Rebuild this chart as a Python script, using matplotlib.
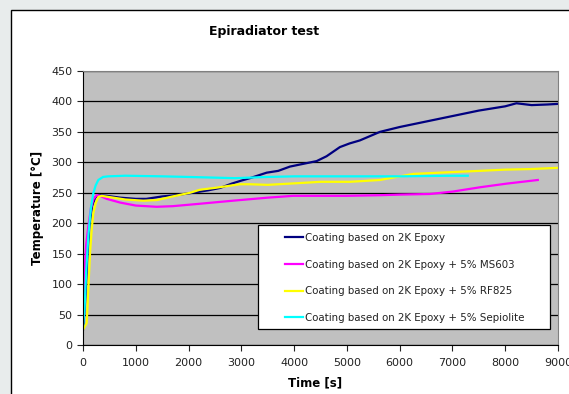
import matplotlib
matplotlib.use("Agg")
import matplotlib.pyplot as plt
from matplotlib.patches import Rectangle

# Epoxy coating (reference)
t_epoxy = [0, 40, 80, 120, 170, 230, 300, 450, 700, 1000, 1200, 1500, 1750, 2000,
           2370, 2600, 2816, 3000, 3163, 3479, 3700, 3920, 4200, 4426, 4615, 4867,
           5050, 5246, 5625, 6000, 6500, 7000, 7500, 8000, 8212, 8500, 8800, 9000]
v_epoxy = [25, 70, 140, 195, 228, 242, 246, 245, 242, 240, 240, 244, 246, 249,
           254, 258, 265, 270, 274, 283, 286, 293, 298, 302, 310, 325,
           331, 336, 350, 358, 367, 376, 385, 392, 397, 394, 395, 396]

# + 5% MS603
t_ms603 = [0, 30, 60, 100, 150, 200, 259, 320, 450, 700, 1000, 1395, 1700, 2216,
           2841, 3500, 3980, 4500, 5000, 5625, 6000, 6572, 7008, 7519, 8024, 8617]
v_ms603 = [60, 120, 165, 194, 225, 240, 246, 245, 240, 234, 229, 227, 228, 232,
           237, 242, 245, 245, 245, 246, 247, 248, 252, 259, 265, 271]

# + 5% RF825
t_rf825 = [0, 30, 70, 100, 133, 165, 195, 240, 290, 350, 500, 800, 1140, 1400,
           1700, 2027, 2216, 2500, 2973, 3163, 3500, 4110, 4500, 5057, 5625, 6004,
           6256, 7000, 7519, 8000, 8500, 9000]
v_rf825 = [25, 30, 36, 90, 151, 190, 216, 233, 243, 245, 243, 239, 237, 238,
           244, 250, 255, 258, 264, 264, 263, 266, 268, 268, 271, 277,
           281, 284, 286, 288, 289, 291]

# + 5% Sepiolite
t_sep = [0, 30, 60, 100, 150, 195, 240, 290, 380, 480, 800, 1500, 2000, 2880,
         3500, 4000, 5000, 6000, 7000, 7290]
v_sep = [30, 60, 120, 178, 225, 249, 262, 271, 276, 277, 278, 277, 276, 274,
         276, 277, 277, 277, 278, 278]

labels = ["Coating based on 2K Epoxy",
          "Coating based on 2K Epoxy + 5% MS603",
          "Coating based on 2K Epoxy + 5% RF825",
          "Coating based on 2K Epoxy + 5% Sepiolite"]
colors = ["#000080", "#FF00FF", "#FFFF00", "#00FFFF"]

W, H = 569, 394
fig = plt.figure(figsize=(W / 100, H / 100), dpi=100, facecolor="#e8ecec")

# chart frame (white with black border, running off right/bottom)
fig.add_artist(Rectangle((11 / W, -0.1), 1.2, 1 - 10 / H + 0.1,
                         transform=fig.transFigure, facecolor="white",
                         edgecolor="black", linewidth=1.0, zorder=0))

ax = fig.add_axes([83 / W, 1 - 345 / H, (558 - 83) / W, (345 - 71) / H])
ax.set_facecolor("#C0C0C0")

series = [(t_epoxy, v_epoxy), (t_ms603, v_ms603), (t_rf825, v_rf825), (t_sep, v_sep)]
for (t, v), c, lab in zip(series, colors, labels):
    ax.plot(t, v, color=c, lw=1.6, label=lab, solid_joinstyle="round")

ax.set_xlim(0, 9000)
ax.set_ylim(0, 450)
ax.set_xticks(range(0, 9001, 1000))
ax.set_yticks(range(0, 451, 50))
ax.yaxis.grid(True, color="black", lw=0.9)
ax.set_axisbelow(True)
ax.tick_params(labelsize=8, length=4, width=0.8, colors="#222222")
ax.tick_params(axis="x", pad=5)
for s in ["top", "right"]:
    ax.spines[s].set_color("#808080")
for s in ["left", "bottom"]:
    ax.spines[s].set_color("black")

fig.text(264 / W, 1 - 32 / H, "Epiradiator test", ha="center", va="center",
         fontsize=9, fontweight="bold")
fig.text(315 / W, 1 - 383 / H, "Time [s]", ha="center", va="center",
         fontsize=8.5, fontweight="bold")
fig.text(37 / W, 1 - 208 / H, "Temperature [°C]", ha="center", va="center",
         rotation=90, fontsize=8.5, fontweight="bold")

# legend box
fig.add_artist(Rectangle((258 / W, 1 - 329 / H), (550 - 258) / W, (329 - 225) / H,
                         transform=fig.transFigure, facecolor="white",
                         edgecolor="black", linewidth=0.9, zorder=5))
leg = fig.legend(loc="upper left", bbox_to_anchor=(285 / W, 1 - 233 / H),
                 frameon=False, fontsize=7.4, handlelength=1.75, handletextpad=0.2,
                 labelspacing=1.62, borderpad=0, borderaxespad=0)
leg.set_zorder(6)
for txt in leg.get_texts():
    txt.set_color("#222222")

fig.savefig("out.png", dpi=100, facecolor=fig.get_facecolor())
